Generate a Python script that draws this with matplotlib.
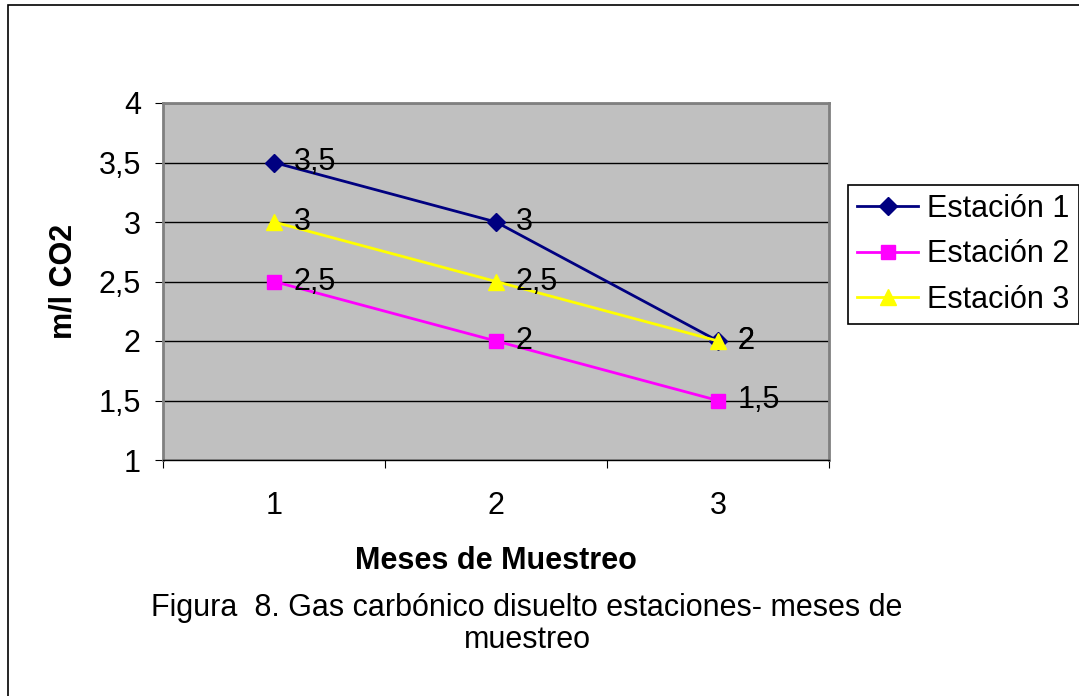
import matplotlib.pyplot as plt
from matplotlib.patches import Rectangle

plt.rcParams['font.family'] = ['Liberation Sans', 'DejaVu Sans']

# datos
meses = [1, 2, 3]
estaciones = ['Estación 1', 'Estación 2', 'Estación 3']
est1 = [3.5, 3, 2]
est2 = [2.5, 2, 1.5]
est3 = [3, 2.5, 2]
y_ticks = [1, 1.5, 2, 2.5, 3, 3.5, 4]

FS = 22


def fmt(v):
	return ('%g' % v).replace('.', ',')


fig = plt.figure(figsize=(10.79, 6.96), dpi=100)
fig.patches.append(Rectangle((8 / 1079, -0.01), 1.1, 1 - 5 / 696 + 0.01,
	transform=fig.transFigure, fill=False, edgecolor='black', linewidth=1.2))

ax = fig.add_axes([163 / 1079, 1 - 460 / 696, (829 - 163) / 1079, (460 - 103) / 696])
ax.set_facecolor('#C0C0C0')

series = [est1, est2, est3]
colors = ['#000080', '#FF00FF', '#FFFF00']
markers = ['D', 's', '^']
msizes = [9, 10, 12]
for i in range(len(series)):
	ax.plot(meses, series[i], color=colors[i], marker=markers[i], markersize=msizes[i],
		linewidth=2, label=estaciones[i], zorder=3)
	for x, y in zip(meses, series[i]):
		ax.annotate(fmt(y), (x, y), xytext=(14, 0), textcoords='offset points',
			va='center', ha='left', fontsize=FS, zorder=4)

ax.set_xlim(0.5, 3.5)
ax.set_ylim(1, 4)
ax.set_yticks(y_ticks)
ax.set_yticklabels([fmt(v) for v in y_ticks])
ax.set_xticks([0.5, 1.5, 2.5, 3.5])
ax.set_xticklabels([])
ax.set_xticks(meses, minor=True)
ax.set_xticklabels([str(m) for m in meses], minor=True)
ax.tick_params(axis='x', which='minor', length=0, pad=22, labelsize=FS)
ax.tick_params(axis='x', which='major', length=6, direction='out')
ax.tick_params(axis='y', length=6, direction='out', labelsize=FS, pad=10)
ax.grid(axis='y', color='black', linewidth=1)
ax.set_axisbelow(True)
for s in ['top', 'right', 'left']:
	ax.spines[s].set_color('#808080')
	ax.spines[s].set_linewidth(2)
ax.spines['bottom'].set_color('black')
ax.spines['bottom'].set_linewidth(1)

ax.set_ylabel('m/l CO2', fontsize=FS, fontweight='bold', labelpad=14)
ax.set_xlabel('Meses de Muestreo', fontsize=FS, fontweight='bold', labelpad=18)

leg = ax.legend(loc='upper left', bbox_to_anchor=(848 / 1079, 1 - 185 / 696),
	bbox_transform=fig.transFigure, fontsize=FS, frameon=True, fancybox=False,
	edgecolor='black', framealpha=1, borderpad=0.3, labelspacing=0.5,
	handlelength=2.0, handletextpad=0.3, borderaxespad=0)
leg.get_frame().set_linewidth(1.2)

fig.text(527 / 1079, 1 - 624 / 696, 'Figura  8. Gas carbónico disuelto estaciones- meses de\nmuestreo',
	ha='center', va='center', fontsize=FS, linespacing=1.1)

plt.savefig('out.png', dpi=100)
